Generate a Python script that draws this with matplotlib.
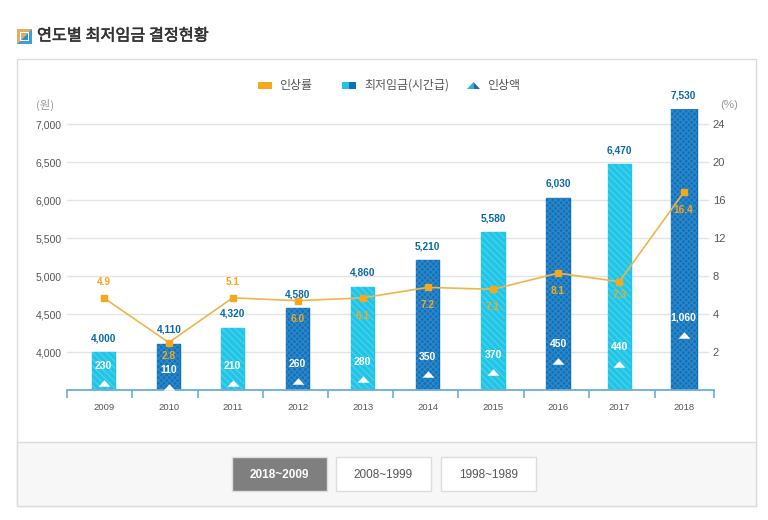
import numpy as np
import matplotlib
matplotlib.use("Agg")
import matplotlib.pyplot as plt
import matplotlib.patheffects as pe
from matplotlib.patches import Rectangle, Polygon
from matplotlib.ticker import NullLocator

plt.rcParams["font.family"] = ["Liberation Sans", "Noto Sans CJK KR", "DejaVu Sans"]
plt.rcParams["hatch.linewidth"] = 1.0

years = ["2009", "2010", "2011", "2012", "2013", "2014", "2015", "2016", "2017", "2018"]
wages = [4000, 4110, 4320, 4580, 4860, 5210, 5580, 6030, 6470, 7530]
amounts = [230, 110, 210, 260, 280, 350, 370, 450, 440, 1060]
rates = [4.9, 2.8, 5.1, 6.0, 6.1, 7.2, 7.1, 8.1, 7.3, 16.4]
# the picture does not put the points where the labels say, so these are read off the axes
rate_drawn = [5.7, 2.5, 5.7, 5.4, 5.7, 6.8, 6.6, 8.3, 7.4, 16.8]
amount_drawn = [3590, 3540, 3590, 3620, 3645, 3710, 3735, 3880, 3840, 4225]

left_ticks = [4000, 4500, 5000, 5500, 6000, 6500, 7000]
right_ticks = [2, 4, 8, 12, 16, 20, 24]
buttons = ["2018~2009", "2008~1999", "1998~1989"]

# category slots are not quite evenly spaced in the reference
slots = [0, 1.01, 2, 3.01, 4.02, 5.03, 6.04, 7.05, 8, 9]
x_edges = [-0.57, 0.44, 1.46, 2.47, 3.48, 4.49, 5.5, 6.52, 7.53, 8.55, 9.47]

ORANGE = "#f5a81c"
LIGHT = "#22c4e6"
DARK = "#1070b8"
KR = ["Noto Sans CJK KR", "DejaVu Sans"]
W, H = 768, 520

fig = plt.figure(figsize=(W / 100, H / 100), dpi=100)


def axes_rect(x0, y0, x1, y1):
    return [x0 / W, 1 - y1 / H, (x1 - x0) / W, (y1 - y0) / H]


# page furniture in pixel coordinates
bg = fig.add_axes([0, 0, 1, 1], zorder=0)
bg.set_xlim(0, W)
bg.set_ylim(H, 0)
bg.axis("off")
bg.add_patch(Rectangle((17, 59), 739, 447, fc="white", ec="#dcdcdc", lw=1))
bg.add_patch(Rectangle((17, 442), 739, 64, fc="#f7f7f7", ec="#dcdcdc", lw=1))

bg.add_patch(Rectangle((17, 29), 15, 15, fc="#e0b060", ec="none"))
bg.add_patch(Polygon([(32, 29), (32, 44), (17, 44)], fc="#3a9fd8", ec="none"))
bg.add_patch(Rectangle((20, 32), 9, 9, fc="white", ec="none"))
bg.add_patch(Polygon([(21, 33), (28, 33), (21, 40)], fc="#e0a860", ec="none"))
bg.add_patch(Polygon([(28, 33), (28, 40), (21, 40)], fc="#2f8fd0", ec="none"))
bg.text(37, 36, "연도별 최저임금 결정현황", fontsize=11.7, color="#333333",
        va="center", ha="left", family=KR,
        path_effects=[pe.withStroke(linewidth=0.4, foreground="#333333")])

for label, x0, active in zip(buttons, [232, 336, 441], [True, False, False]):
    bg.add_patch(Rectangle((x0, 457), 95, 34, fc="#7f7f7f" if active else "white",
                           ec="#dddddd", lw=1))
    bg.text(x0 + 47.5, 474.5, label, ha="center", va="center", fontsize=8.5,
            color="white" if active else "#555555", weight="bold" if active else "normal")

# legend
bg.add_patch(Rectangle((258, 82), 14, 7, fc=ORANGE, ec="none"))
bg.add_patch(Rectangle((342, 82), 7, 7, fc=LIGHT, ec="none"))
bg.add_patch(Rectangle((349, 82), 7, 7, fc=DARK, ec="none"))
bg.add_patch(Polygon([(467, 89), (473.5, 82), (473.5, 89)], fc="#2ab0dc", ec="none"))
bg.add_patch(Polygon([(473.5, 82), (480, 89), (473.5, 89)], fc="#1a6fa8", ec="none"))
for x, label in zip([279, 364, 487], ["인상률", "최저임금(시간급)", "인상액"]):
    bg.text(x, 85.5, label, fontsize=8.6, color="#555555", va="center", ha="left", family=KR)

bg.text(36, 105, "(원)", fontsize=8.2, color="#999999", va="center", ha="left", family=KR)
bg.text(720, 105, "(%)", fontsize=8.2, color="#999999", va="center", ha="left")

# bars, left axis
ax = fig.add_axes(axes_rect(67, 109, 714, 390), zorder=1)
ax.patch.set_alpha(0)
ax.set_xlim(x_edges[0], x_edges[-1])
ax.set_ylim(3500, 7000 + 15 / 38 * 500)
for s in ["top", "left", "right"]:
    ax.spines[s].set_visible(False)
ax.spines["bottom"].set_color("#6aaedb")
ax.spines["bottom"].set_linewidth(1.3)

for v in left_ticks:
    ax.axhline(v, xmin=0, xmax=0.99, color="#e4e4e4", lw=1, zorder=0)

ax.set_yticks(left_ticks)
ax.set_yticklabels([f"{v:,}" for v in left_ticks], fontsize=7.6, color="#555555")
ax.tick_params(axis="y", length=0, pad=4)
ax.set_xticks(x_edges)
ax.set_xticklabels([])
ax.tick_params(axis="x", length=6, color="#6aaedb", width=1.2)

for i, wage in enumerate(wages):
    light = i % 2 == 0
    width = 0.40 if i == 9 else 0.36
    ax.bar(slots[i], wage - 3500, bottom=3500, width=width, color=LIGHT if light else DARK,
           edgecolor=LIGHT if light else DARK, linewidth=1, joinstyle="round", zorder=2)
    # hatch sits on a second bar because its colour comes from the edge colour
    ax.bar(slots[i], wage - 3500, bottom=3500, width=width, fill=False, linewidth=0,
           edgecolor="#45d2ee" if light else "#2c86c8",
           hatch="\\\\\\\\\\" if light else "xxxxxx", zorder=2.5)
    shown = min(wage, ax.get_ylim()[1])
    ax.annotate(f"{wage:,}", (slots[i], shown), xytext=(0, 10), textcoords="offset points",
                ha="center", va="center", fontsize=7.3, weight="bold", color="#0a6aa8",
                annotation_clip=False, zorder=6)
    ax.text(slots[i], -0.062, years[i], transform=ax.get_xaxis_transform(), ha="center",
            va="center", fontsize=6.8, color="#555555")

ax.plot(slots, amount_drawn, ls="none", color="white", ms=8.5, zorder=4,
        marker=[(-1, -0.55), (1, -0.55), (0, 0.55)], mew=0)
for i, amount in enumerate(amounts):
    ax.annotate(f"{amount:,}", (slots[i], amount_drawn[i]), xytext=(0, 12.5),
                textcoords="offset points", ha="center", va="center", fontsize=7.5,
                weight="bold", color="white", zorder=5)


# right axis has uneven steps: 0-4 is twice as tall per percent as the rest
def fwd(v):
    return np.interp(v, [0, 4, 40], [0, 76, 76 + 36 * 9.5])


def inv(v):
    return np.interp(v, [0, 76, 76 + 36 * 9.5], [0, 4, 40])


ax2 = ax.twinx()
ax2.set_zorder(2)
ax2.patch.set_alpha(0)
ax2.set_yscale("function", functions=(fwd, inv))
ax2.set_ylim(0, 24 + 15 / 9.5)
for s in ax2.spines.values():
    s.set_visible(False)
ax2.set_yticks(right_ticks)
ax2.set_yticklabels([str(v) for v in right_ticks], fontsize=8, color="#555555")
ax2.yaxis.set_minor_locator(NullLocator())
ax2.tick_params(axis="y", length=0, pad=-1)

ax2.plot(slots, rate_drawn, color="#efb54a", lw=1.2, marker="s", ms=4.6,
         mfc=ORANGE, mec=ORANGE, zorder=3)
for i, rate in enumerate(rates):
    offset = 11.5 if i in (0, 2) else (-9.5 if i in (1, 8) else -13)
    ax2.annotate(f"{rate}", (slots[i], rate_drawn[i]), xytext=(0, offset),
                 textcoords="offset points", ha="center", va="center", fontsize=7.3,
                 weight="bold", color=ORANGE, zorder=5)

fig.savefig("out.png", dpi=100)
